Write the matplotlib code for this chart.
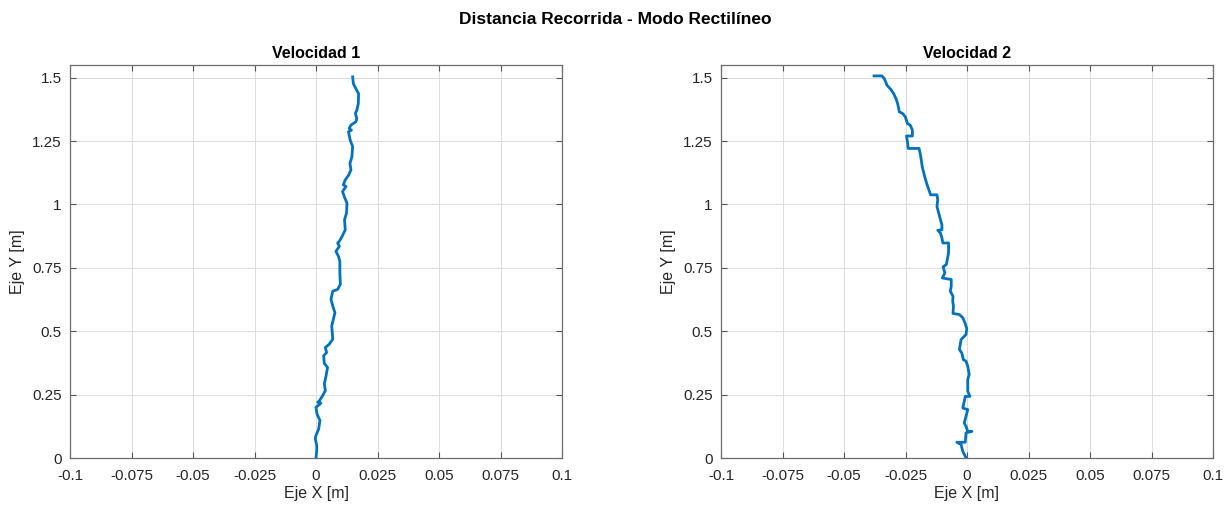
import matplotlib
matplotlib.use("Agg")
import matplotlib.pyplot as plt
import numpy as np

plt.rcParams['font.family'] = ['Liberation Sans', 'DejaVu Sans']

# Trajectory at speed 1 (x, y in metres)
vel1_x = [0.0000, 0.0003, 0.0003, -0.0003, 0.0000, 0.0011, 0.0016, 0.0004, 0.0000,
          0.0020, 0.0007, 0.0014, 0.0027, 0.0038, 0.0034, 0.0041, 0.0047, 0.0034,
          0.0031, 0.0043, 0.0038, 0.0054, 0.0068, 0.0064, 0.0077, 0.0068, 0.0061,
          0.0068, 0.0088, 0.0099, 0.0097, 0.0097, 0.0097, 0.0091, 0.0081, 0.0095,
          0.0088, 0.0095, 0.0106, 0.0119, 0.0116, 0.0124, 0.0126, 0.0115, 0.0108,
          0.0122, 0.0111, 0.0119, 0.0133, 0.0142, 0.0138, 0.0146, 0.0149, 0.0139,
          0.0132, 0.0144, 0.0135, 0.0142, 0.0162, 0.0166, 0.0160, 0.0166, 0.0172,
          0.0173, 0.0162, 0.0152, 0.0149]
vel1_y = [0.000, 0.030, 0.050, 0.076, 0.089, 0.115, 0.148, 0.174, 0.200,
          0.216, 0.220, 0.226, 0.246, 0.266, 0.292, 0.325, 0.357, 0.373,
          0.403, 0.416, 0.436, 0.449, 0.469, 0.521, 0.573, 0.600, 0.626,
          0.658, 0.665, 0.685, 0.730, 0.750, 0.776, 0.796, 0.815, 0.835,
          0.848, 0.855, 0.874, 0.900, 0.940, 0.966, 1.005, 1.031, 1.051,
          1.071, 1.077, 1.097, 1.116, 1.136, 1.162, 1.188, 1.228, 1.254,
          1.287, 1.293, 1.300, 1.313, 1.326, 1.339, 1.359, 1.372, 1.398,
          1.437, 1.457, 1.476, 1.503]

# Trajectory at speed 2 (x, y in metres)
vel2_x = [-0.0004, -0.0007, -0.0017, -0.0024, -0.0041, -0.0007, -0.0004, 0.0020,
          0.0003, -0.0004, -0.0011, -0.0004, 0.0003, -0.0017, -0.0011, -0.0007,
          0.0012, 0.0003, 0.0003, 0.0009, 0.0003, -0.0004, -0.0015, -0.0021,
          -0.0031, -0.0024, -0.0004, -0.0001, -0.0007, -0.0017, -0.0031, -0.0057,
          -0.0055, -0.0058, -0.0057, -0.0068, -0.0064, -0.0064, -0.0100, -0.0090,
          -0.0097, -0.0084, -0.0080, -0.0075, -0.0075, -0.0098, -0.0102, -0.0108,
          -0.0119, -0.0102, -0.0102, -0.0108, -0.0115, -0.0122, -0.0119, -0.0122,
          -0.0148, -0.0155, -0.0162, -0.0172, -0.0182, -0.0189, -0.0195, -0.0239,
          -0.0242, -0.0246, -0.0222, -0.0222, -0.0231, -0.0242, -0.0251, -0.0262,
          -0.0275, -0.0282, -0.0289, -0.0298, -0.0309, -0.0325, -0.0336, -0.0346,
          -0.0378]
vel2_y = [0.000, 0.007, 0.026, 0.053, 0.062, 0.062, 0.099, 0.105,
          0.105, 0.125, 0.138, 0.165, 0.191, 0.197, 0.224, 0.243,
          0.243, 0.263, 0.310, 0.329, 0.362, 0.382, 0.388, 0.414,
          0.428, 0.467, 0.487, 0.510, 0.530, 0.553, 0.566, 0.570,
          0.599, 0.618, 0.638, 0.658, 0.678, 0.704, 0.710, 0.730,
          0.754, 0.763, 0.783, 0.809, 0.848, 0.848, 0.868, 0.887,
          0.898, 0.900, 0.920, 0.940, 0.966, 0.992, 1.018, 1.038,
          1.038, 1.058, 1.077, 1.110, 1.149, 1.195, 1.221, 1.221,
          1.247, 1.270, 1.270, 1.293, 1.313, 1.319, 1.346, 1.359,
          1.365, 1.398, 1.418, 1.437, 1.453, 1.470, 1.496, 1.507,
          1.507]

x_ticks = [-0.1, -0.075, -0.05, -0.025, 0, 0.025, 0.05, 0.075, 0.1]
x_labels = ['-0.1', '-0.075', '-0.05', '-0.025', '0', '0.025', '0.05', '0.075', '0.1']
y_ticks = [0, 0.25, 0.5, 0.75, 1, 1.25, 1.5]
y_labels = ['0', '0.25', '0.5', '0.75', '1', '1.25', '1.5']

titles = ['Velocidad 1', 'Velocidad 2']
series = [(vel1_x, vel1_y), (vel2_x, vel2_y)]

W, H = 1231, 508
fig = plt.figure(figsize=(W / 100, H / 100), dpi=100)
fig.patch.set_facecolor('white')

axes_left_px = [70, 721]
ax_w_px, ax_top_px, ax_bot_px = 492, 65, 458

text_col = '#262626'
line_col = '#0072BD'

for i, (xs, ys) in enumerate(series):
    ax = fig.add_axes([axes_left_px[i] / W, 1 - ax_bot_px / H,
                       ax_w_px / W, (ax_bot_px - ax_top_px) / H])
    ax.plot(xs, ys, color=line_col, linewidth=2.0, solid_joinstyle='round')
    ax.set_xlim(-0.1, 0.1)
    ax.set_ylim(0, 1.55)
    ax.set_xticks(x_ticks)
    ax.set_xticklabels(x_labels)
    ax.set_yticks(y_ticks)
    ax.set_yticklabels(y_labels)
    ax.grid(True, color='#dcdcdc', linewidth=0.7)
    ax.set_axisbelow(True)
    ax.tick_params(direction='in', length=4, width=0.8, colors='#555555',
                   labelcolor=text_col, labelsize=11,
                   top=True, right=True)
    ax.tick_params(axis='x', pad=8)
    ax.tick_params(axis='y', pad=6)
    for s in ax.spines.values():
        s.set_color('#6e6e6e')
        s.set_linewidth(0.9)
    ax.set_title(titles[i], fontsize=11.5, fontweight='bold', color='black', pad=5)
    ax.set_xlabel('Eje X [m]', fontsize=11.5, color=text_col, labelpad=2)
    ax.set_ylabel('Eje Y [m]', fontsize=11.5, color=text_col, labelpad=5)

fig.suptitle('Distancia Recorrida - Modo Rectilíneo', fontsize=12.5,
             fontweight='bold', y=1 - 19 / H, va='center')

fig.savefig('out.png', dpi=100, facecolor='white')
